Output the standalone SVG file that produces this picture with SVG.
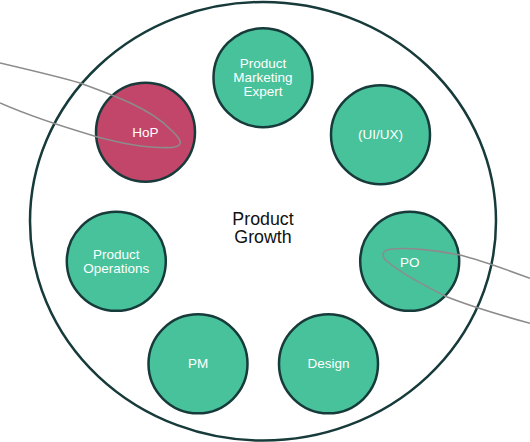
<svg xmlns="http://www.w3.org/2000/svg" width="530" height="442" viewBox="0 0 530 442">
<style>
.node{fill:#48C29B;stroke:#173A3A;stroke-width:2.5}
.hop{fill:#C2456A;stroke:#173A3A;stroke-width:2.5}
.lbl{font-family:"Liberation Sans",Arial,sans-serif;font-size:13.5px;fill:#ffffff;text-anchor:middle}
.center{font-family:"Liberation Sans",Arial,sans-serif;font-size:17.8px;fill:#111111;text-anchor:middle}
.conn{fill:none;stroke:#8C8C8C;stroke-width:1.6}
</style>
<rect width="530" height="442" fill="#ffffff"/>
<g id="outer">
<ellipse cx="263" cy="221.3" rx="233" ry="219.3" fill="#ffffff" stroke="#173A3A" stroke-width="2.5"/>
<text class="center" x="263" y="225">Product</text>
<text class="center" x="263" y="243.3">Growth</text>
</g>
<g id="pme"><circle class="node" cx="263" cy="77.7" r="49.5"/><text class="lbl" x="263" y="68.3">Product</text><text class="lbl" x="263" y="82.3">Marketing</text><text class="lbl" x="263" y="96.3">Expert</text></g>
<g id="hop"><circle class="hop" cx="145.5" cy="132.2" r="49.5"/><text class="lbl" x="145.5" y="136.7">HoP</text></g>
<g id="uiux"><circle class="node" cx="380.5" cy="134.7" r="49.5"/><text class="lbl" x="380.5" y="139">(UI/UX)</text></g>
<g id="productops"><circle class="node" cx="116.3" cy="261.3" r="49.5"/><text class="lbl" x="116.3" y="259">Product</text><text class="lbl" x="116.3" y="273.3">Operations</text></g>
<g id="po"><circle class="node" cx="409.7" cy="261.3" r="49.5"/><text class="lbl" x="409.7" y="266.5">PO</text></g>
<g id="pm"><circle class="node" cx="198" cy="363.8" r="49.5"/><text class="lbl" x="198" y="368">PM</text></g>
<g id="design"><circle class="node" cx="328.5" cy="363.8" r="49.5"/><text class="lbl" x="328.5" y="368">Design</text></g>
<g id="connectors">
<path class="conn" d="M0,63 C30,70 60,77 80,83 C110,94 150,108 170,129 C180,138 186,146 172,147.5 C150,148.5 120,143 96.7,136.7 C60,126 25,114 0,103"/>
<path class="conn" d="M530,278.3 C505,269 480,260 460,255 C435,250 405,247 390,249.3 C380,251 382,258 388,262 C395,268 415,281 446.7,296.7 C470,306 500,315 530,323.3"/>
</g>
</svg>
